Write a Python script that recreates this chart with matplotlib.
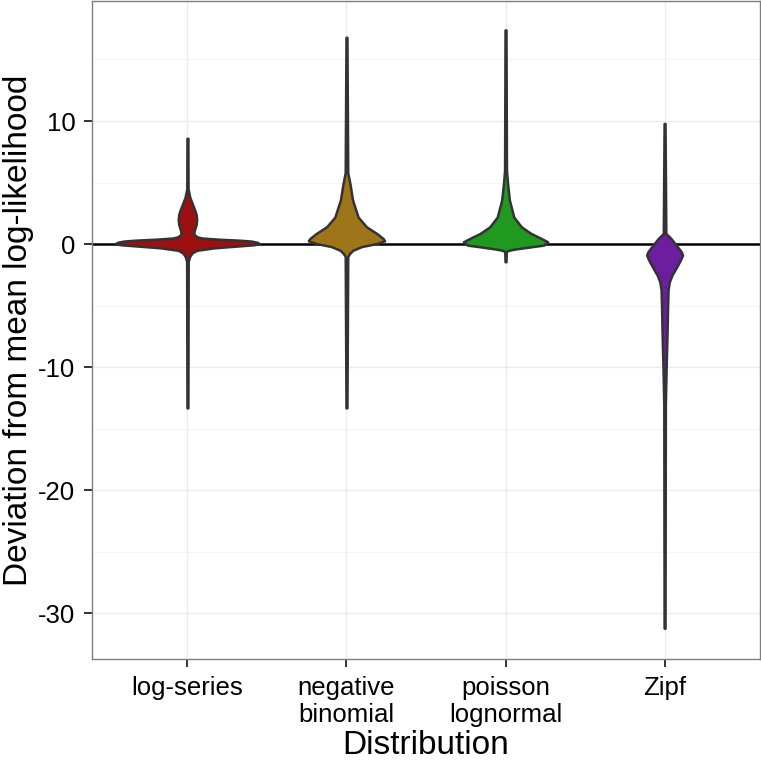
import matplotlib
matplotlib.use("Agg")

import numpy as np
import matplotlib.pyplot as plt
from matplotlib.ticker import MultipleLocator

# Categories on the x axis
distributions = ["log-series", "negative\nbinomial", "poisson\nlognormal", "Zipf"]
fills = ["#9d1010", "#9e7518", "#1f9a1f", "#6d1e9e"]

# Violin outlines: y value and half width (category units)
logseries_y = [-13.3, -1.4, -1.0, -0.7, -0.5, -0.3, -0.15, -0.05, 0.05, 0.15, 0.25,
               0.32, 0.4, 0.5, 0.6, 0.75, 0.9, 1.2, 1.6, 2.0, 2.4, 2.8, 3.3, 3.8, 4.5, 8.6]
logseries_w = [0.003, 0.005, 0.014, 0.03, 0.06, 0.17, 0.32, 0.42, 0.45, 0.44, 0.40,
               0.33, 0.2, 0.09, 0.06, 0.045, 0.04, 0.045, 0.055, 0.058, 0.055, 0.045,
               0.03, 0.015, 0.004, 0.003]

negbin_y = [-13.3, -1.0, -0.75, -0.5, -0.2, 0.05, 0.27, 0.46, 0.87, 1.4, 2.2,
            3.6, 4.9, 5.8, 16.8]
negbin_w = [0.003, 0.008, 0.02, 0.04, 0.095, 0.19, 0.24, 0.23, 0.19, 0.126, 0.073,
            0.038, 0.022, 0.008, 0.003]

poilog_y = [-1.43, -0.6, -0.5, -0.4, -0.2, -0.08, 0.19, 0.46, 0.87, 1.4, 2.2,
            3.6, 4.9, 6.0, 17.4]
poilog_w = [0.003, 0.005, 0.02, 0.06, 0.17, 0.24, 0.265, 0.225, 0.16, 0.10, 0.052,
            0.024, 0.013, 0.006, 0.003]

zipf_y = [-31.2, -13.0, -10.0, -7.0, -5.1, -3.7, -3.06, -2.5, -1.97, -1.43, -0.9,
          -0.62, -0.08, 0.46, 0.87, 9.8]
zipf_w = [0.003, 0.005, 0.01, 0.016, 0.019, 0.022, 0.03, 0.047, 0.071, 0.094, 0.113,
          0.105, 0.073, 0.04, 0.008, 0.003]

profiles = [(logseries_y, logseries_w), (negbin_y, negbin_w),
            (poilog_y, poilog_w), (zipf_y, zipf_w)]

plt.rcParams["font.family"] = ["Liberation Sans", "DejaVu Sans"]

fig = plt.figure(figsize=(7.61, 7.61), dpi=100)
ax = fig.add_axes([92 / 761, 102 / 761, 668 / 761, 658 / 761])

# Panel styling, close to theme_bw
ax.set_facecolor("white")
for s in ax.spines.values():
    s.set_color("#7f7f7f")
    s.set_linewidth(1.0)
ax.yaxis.set_major_locator(MultipleLocator(10))
ax.yaxis.set_minor_locator(MultipleLocator(5))
ax.grid(which="major", color="#ebebeb", linewidth=1.0, zorder=0)
ax.grid(which="minor", axis="y", color="#f4f4f4", linewidth=0.7, zorder=0)
ax.set_axisbelow(True)

ax.axhline(0, color="black", linewidth=1.8, zorder=1)

positions = np.arange(1, len(distributions) + 1)
for pos, (yy, ww), col in zip(positions, profiles, fills):
    yy = np.array(yy)
    ww = np.array(ww)
    ax.fill_betweenx(yy, pos - ww, pos + ww, facecolor=col, edgecolor="#333333",
                     linewidth=1.8, zorder=3)

ax.set_xlim(0.4, 4.6)
ax.set_ylim(-33.7, 19.75)
ax.set_xticks(positions)
ax.set_xticklabels(distributions)
ax.set_yticks([-30, -20, -10, 0, 10])
ax.set_yticklabels(["-30", "-20", "-10", "0", "10"])
ax.tick_params(which="major", length=6, width=1.3, color="#222222", labelsize=18.5,
               labelcolor="black", pad=6)
ax.tick_params(which="minor", length=0)

ax.set_xlabel("Distribution", fontsize=24, labelpad=2)
ax.set_ylabel("Deviation from mean log-likelihood", fontsize=24, labelpad=3)

fig.savefig("out.png", dpi=100)
